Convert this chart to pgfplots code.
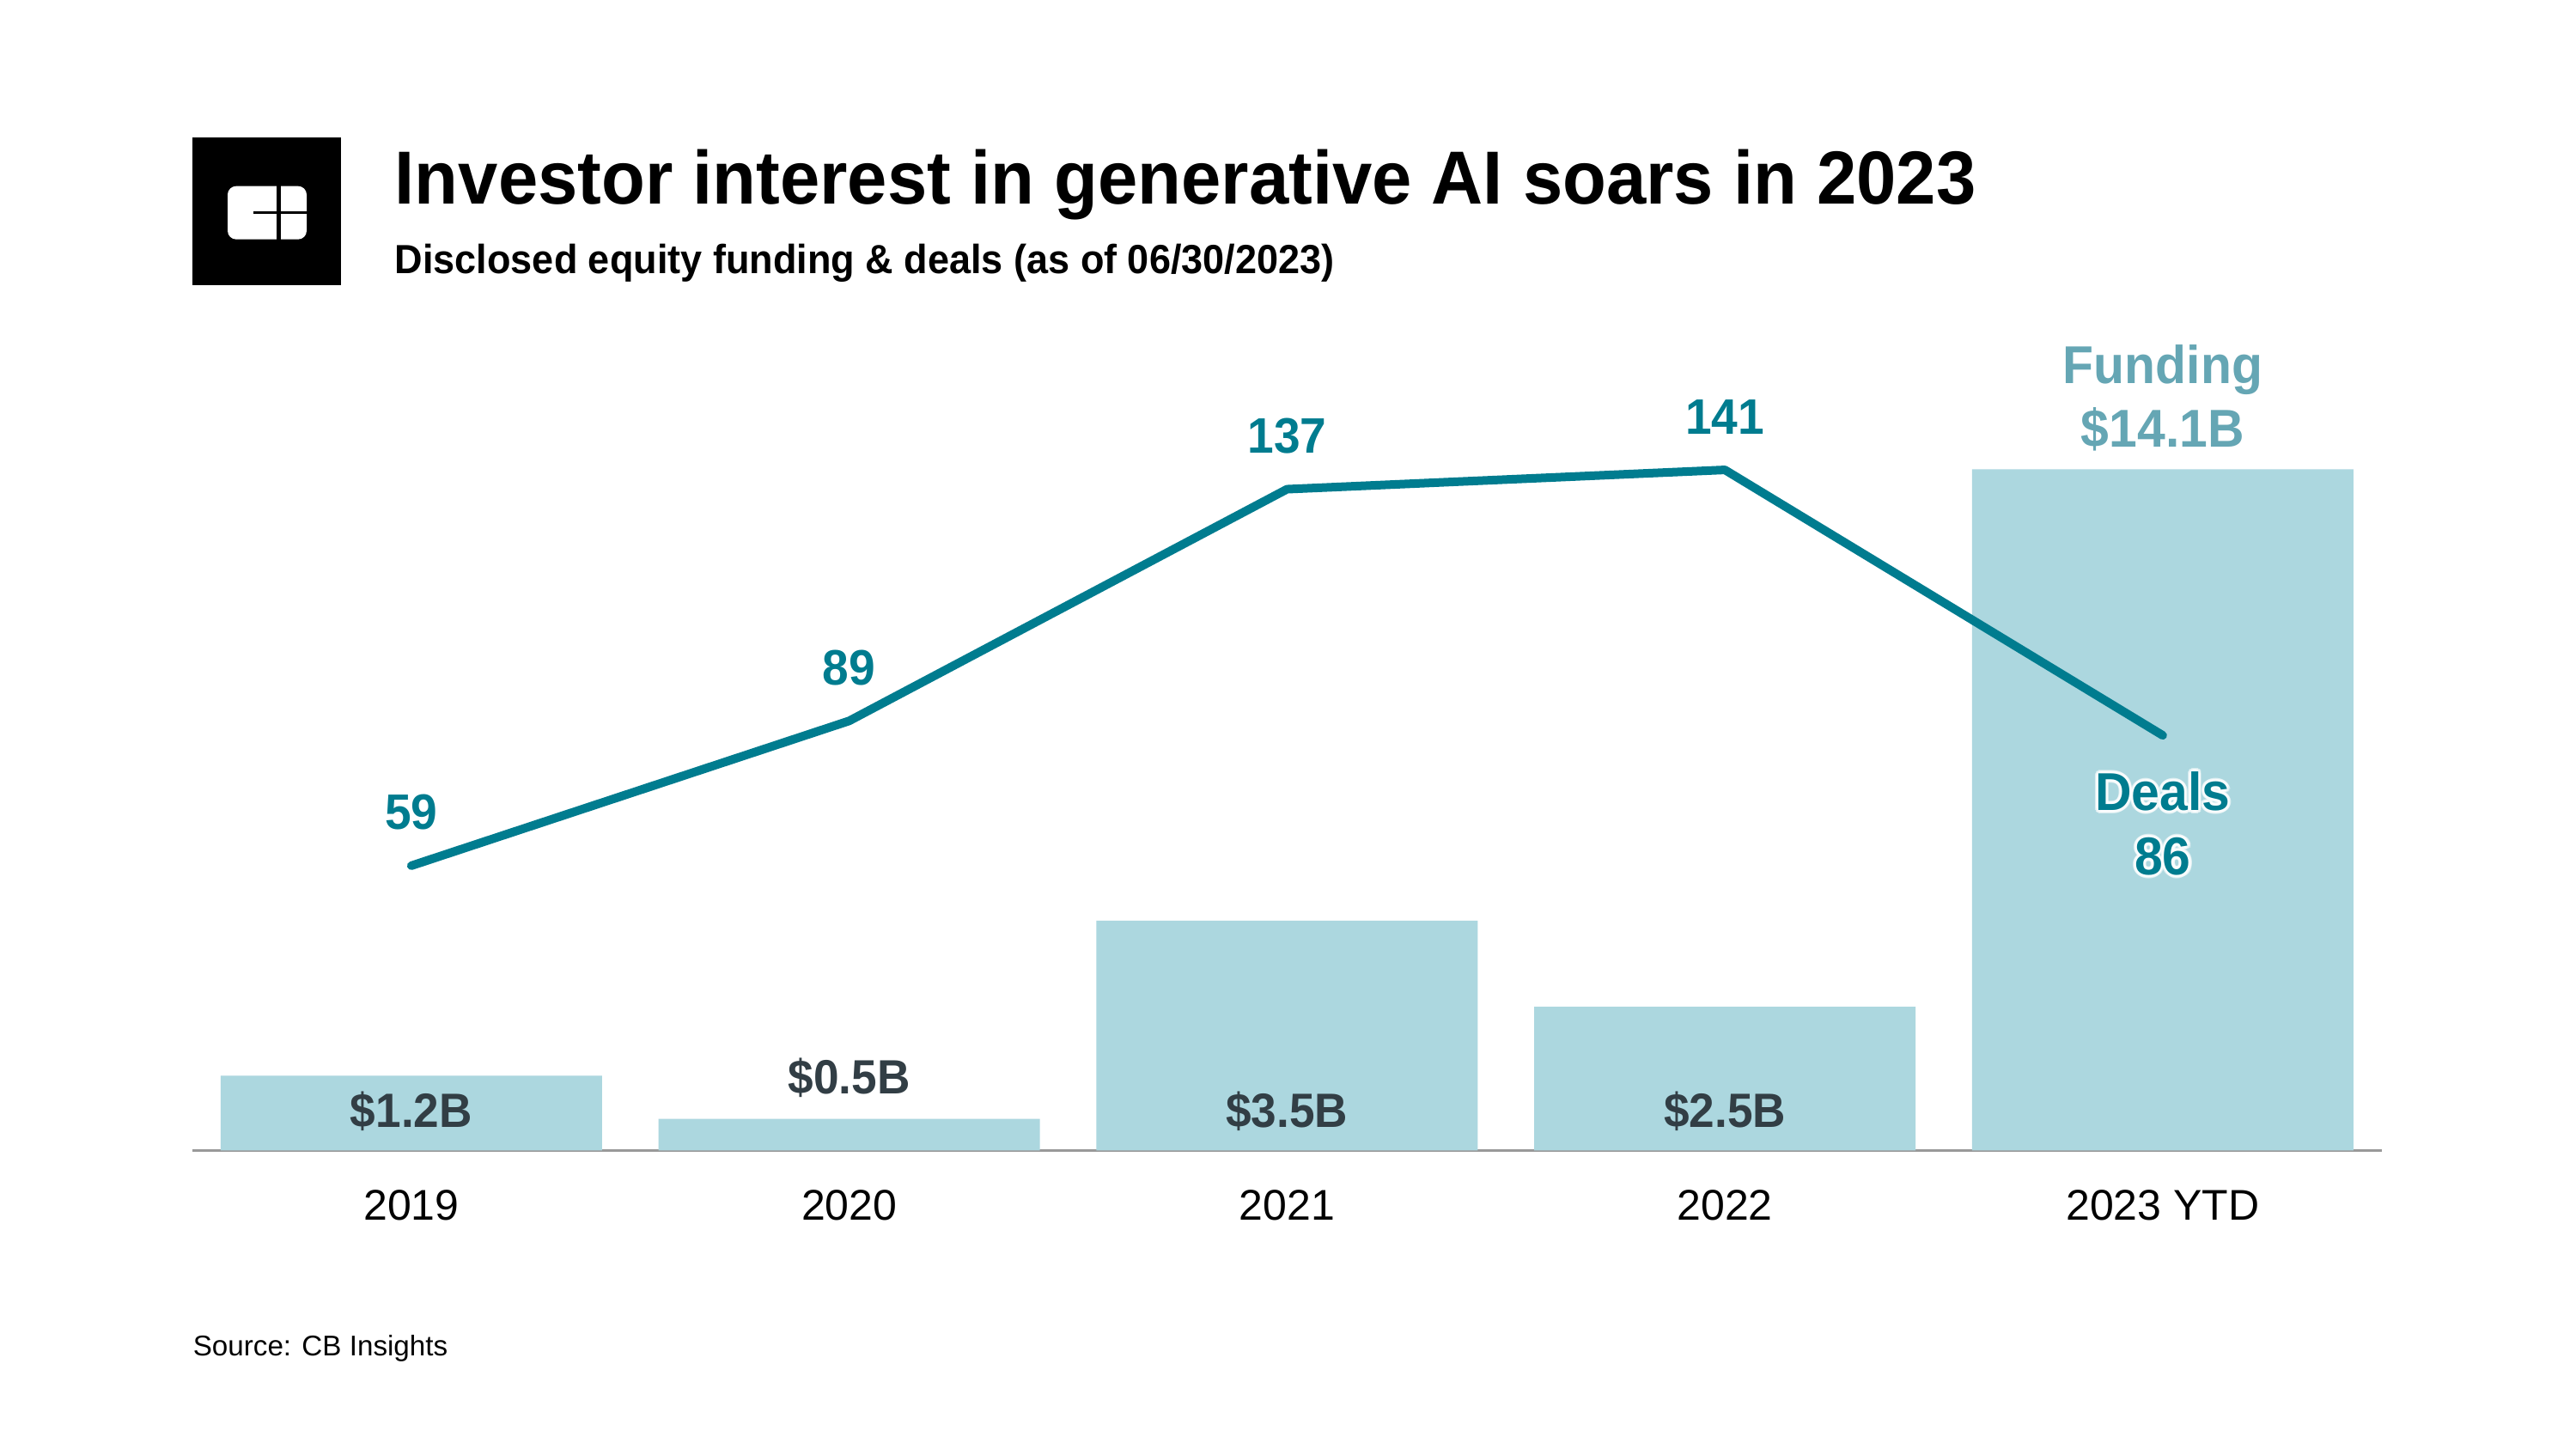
\documentclass[border=0pt]{standalone}
\usepackage{pgfplots}
\pgfplotsset{compat=1.18}
\usepackage{fontspec}
\setmainfont{Liberation Sans}
\newfontfamily\boldf{Liberation Sans}[FakeStretch=0.95]

\definecolor{barblue}{HTML}{ACD7DF}
\definecolor{dealteal}{HTML}{007C8F}
\definecolor{fundcol}{HTML}{65A6B4}
\definecolor{labcol}{HTML}{323E45}
\definecolor{axgray}{HTML}{999999}

\begin{document}
\begin{tikzpicture}
\useasboundingbox[fill=white] (0,0) rectangle (749.75pt,-421.75pt);

% header, logo and source, in pixels of the 2999x1687 picture
\begin{scope}[x=0.25pt,y=-0.25pt]
  \fill[black] (224,160) rectangle (397,332);
  \fill[white, rounded corners=2.5pt] (265,216.7) rectangle (357,278.7);
  \fill[black] (322,210) rectangle (327,285);
  \fill[black] (294.6,246) rectangle (360,249);
  \node[anchor=base west, inner sep=0pt] at (459,237.7)
    {\boldf\bfseries\fontsize{21.9}{26}\selectfont Investor interest in generative AI soars in 2023};
  \node[anchor=base west, inner sep=0pt] at (459,319)
    {\boldf\bfseries\fontsize{11.85}{14}\selectfont Disclosed equity funding \& deals (as of 06/30/2023)};
  \node[anchor=base west, inner sep=0pt] at (224,1578.3)
    {\fontsize{8.3}{10}\selectfont Source: CB Insights};
\end{scope}

% funding bars
\begin{axis}[
    at={(56pt,-334.875pt)}, anchor=south west,
    x=127.4375pt, y=18.125pt,
    xmin=-0.5, xmax=4.5, ymin=0, ymax=11.6276,
    axis x line=bottom, axis y line=none,
    x axis line style={-, draw=axgray, line width=0.7pt},
    ybar, bar width=111pt,
    xtick={0,1,2,3,4},
    xticklabels={2019,2020,2021,2022,2023 YTD},
    major tick length=0pt,
    xticklabel style={anchor=base, yshift=-20.3pt, inner sep=0pt,
      font=\fontsize{12.5}{14}\selectfont},
    clip=false,
]
\addplot[fill=barblue, draw=none] coordinates {
    (0,1.20) (1,0.51) (2,3.69) (3,2.31) (4,10.94)
};
\begin{scope}[every node/.style={anchor=base, inner sep=0pt, text=labcol,
    font=\boldf\bfseries\fontsize{14}{16}\selectfont}]
  \node[yshift=6.8pt]  at (axis cs:0,0) {\$1.2B};
  \node[yshift=16.4pt] at (axis cs:1,0) {\$0.5B};
  \node[yshift=6.8pt]  at (axis cs:2,0) {\$3.5B};
  \node[yshift=6.8pt]  at (axis cs:3,0) {\$2.5B};
\end{scope}
\begin{scope}[every node/.style={anchor=base, inner sep=0pt, text=fundcol,
    font=\boldf\bfseries\fontsize{15.5}{18}\selectfont}]
  \node[yshift=223.3pt] at (axis cs:4,0) {Funding};
  \node[yshift=204.7pt] at (axis cs:4,0) {\$14.1B};
\end{scope}
\end{axis}

% deals line
\begin{axis}[
    at={(56pt,-334.875pt)}, anchor=south west,
    x=127.4375pt, y=1.405pt,
    xmin=-0.5, xmax=4.5, ymin=0, ymax=150,
    hide axis, clip=false,
]
\addplot[dealteal, line width=2.5pt, line cap=round, line join=round] coordinates {
    (0,59) (1,89) (2,137) (3,141) (4,86)
};
\begin{scope}[every node/.style={anchor=base, inner sep=0pt, text=dealteal,
    font=\boldf\bfseries\fontsize{14.5}{17}\selectfont}]
  \node[yshift=10.5pt] at (axis cs:0,59) {59};
  \node[yshift=10.5pt] at (axis cs:1,89) {89};
  \node[yshift=10.5pt] at (axis cs:2,137) {137};
  \node[yshift=10.5pt] at (axis cs:3,141) {141};
\end{scope}
% white halo behind the end label
\begin{scope}[every node/.style={anchor=base, inner sep=0pt,
    font=\boldf\bfseries\fontsize{15.5}{18}\selectfont}]
  \pgfplotsinvokeforeach{0,30,...,330}{
    \node[text=white, opacity=0.55, shift={(#1:0.9pt)}, yshift=99pt] at (axis cs:4,0) {Deals};
    \node[text=white, opacity=0.55, shift={(#1:0.9pt)}, yshift=80.25pt] at (axis cs:4,0) {86};
  }
  \node[text=dealteal, yshift=99pt] at (axis cs:4,0) {Deals};
  \node[text=dealteal, yshift=80.25pt] at (axis cs:4,0) {86};
\end{scope}
\end{axis}
\end{tikzpicture}
\end{document}
